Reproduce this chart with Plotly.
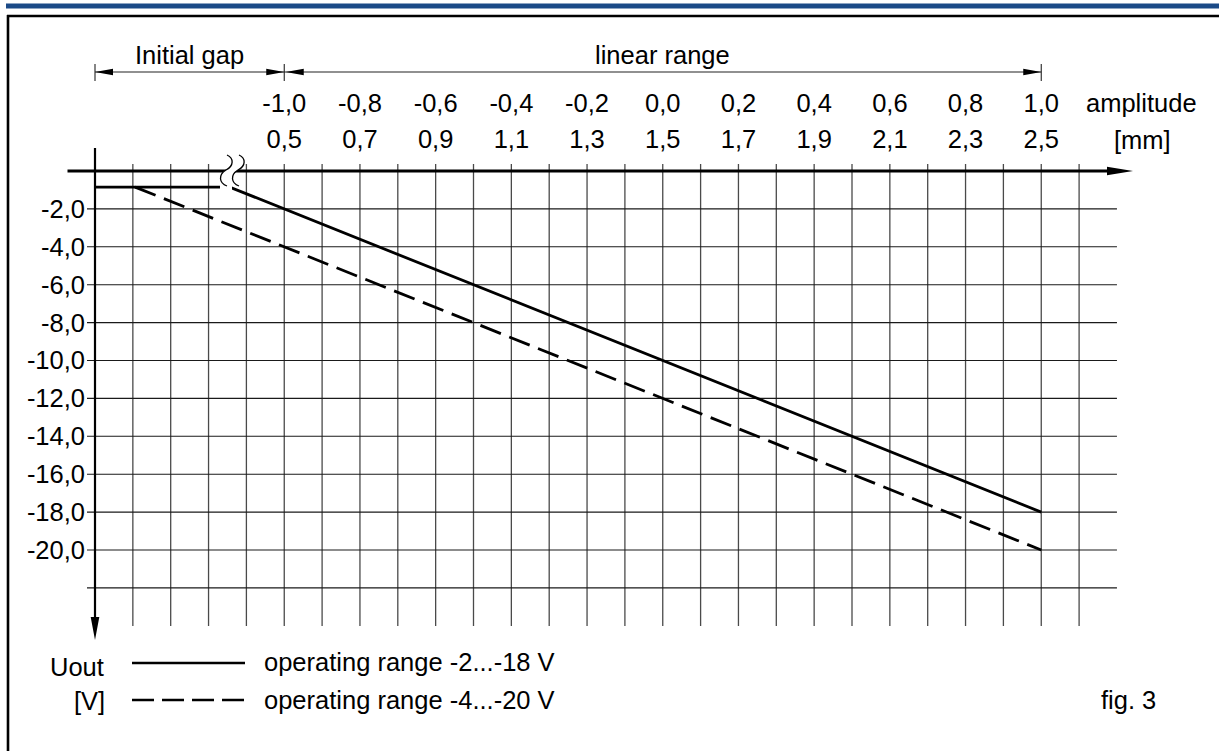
import plotly.graph_objects as go

# ---------------- data ----------------
gap_mm = [0.5, 0.7, 0.9, 1.1, 1.3, 1.5, 1.7, 1.9, 2.1, 2.3, 2.5]
gap_labels = ["0,5", "0,7", "0,9", "1,1", "1,3", "1,5", "1,7", "1,9", "2,1", "2,3", "2,5"]
amplitude_labels = ["-1,0", "-0,8", "-0,6", "-0,4", "-0,2", "0,0", "0,2", "0,4", "0,6", "0,8", "1,0"]
uout_ticks = [-2, -4, -6, -8, -10, -12, -14, -16, -18, -20]
uout_labels = ["-2,0", "-4,0", "-6,0", "-8,0", "-10,0", "-12,0", "-14,0", "-16,0", "-18,0", "-20,0"]

solid_x = [0.0, 0.356, 2.5]
solid_y = [-0.85, -0.85, -18.0]
dashed_x = [0.106, 2.5]
dashed_y = [-0.85, -20.0]

grid_x = [0.1, 0.2, 0.3, 0.4, 0.5, 0.6, 0.7, 0.8, 0.9, 1.0, 1.1, 1.2, 1.3,
          1.4, 1.5, 1.6, 1.7, 1.8, 1.9, 2.0, 2.1, 2.2, 2.3, 2.4, 2.5, 2.6]
grid_y = [-2, -4, -6, -8, -10, -12, -14, -16, -18, -20, -22]
dim_marks = [0.0, 0.5, 2.5]

# ---------------- page geometry ----------------
W, H = 1219, 751
X0PX, XPPMM = 95.0, 378.5     # pixel of x=0, pixels per mm
Y0PX, YPPV = 171.0, 18.95     # pixel of U=0, pixels per volt
FONT = "Liberation Sans, Arial, sans-serif"
FS = 25.5


def dx(px):
    return (px - X0PX) / XPPMM


def dy(py):
    return (Y0PX - py) / YPPV


xr = [dx(0), dx(W)]
yr = [dy(H), dy(0)]

shapes = []


def sline(x0, y0, x1, y1, color="black", width=1.0, layer="above", dash="solid"):
    shapes.append(dict(type="line", xref="x", yref="y", x0=x0, y0=y0, x1=x1, y1=y1,
                       line=dict(color=color, width=width, dash=dash), layer=layer))


def spath(pts_px, fill="black", layer="above", close=True, stroke=None, width=0):
    d = ""
    for cmd, pts in pts_px:
        d += cmd + " " + " ".join("%.5f,%.5f" % (dx(a), dy(b)) for a, b in pts) + " "
    if close:
        d += "Z"
    shapes.append(dict(type="path", xref="x", yref="y", path=d,
                       fillcolor=fill if fill else "rgba(0,0,0,0)",
                       line=dict(color=stroke if stroke else "rgba(0,0,0,0)", width=width),
                       layer=layer))


def harrow(tip, base, ypx, hw):
    spath([("M", [(tip, ypx)]), ("L", [(base, ypx - hw)]), ("L", [(base, ypx + hw)])])


def varrow(xpx, tip, base, hw):
    spath([("M", [(xpx, tip)]), ("L", [(xpx - hw, base)]), ("L", [(xpx + hw, base)])])


# grid
for gx in grid_x:
    sline(gx, dy(164), gx, dy(626), color="#4a4a4a", width=1.3, layer="below")
for gy in grid_y:
    sline(dx(87), gy, 2.7, gy, color="#1a1a1a", width=1.1, layer="below")

# top blue bar and frame
shapes.append(dict(type="rect", xref="x", yref="y", x0=dx(6), x1=dx(W), y0=dy(8.5), y1=dy(3.5),
                   fillcolor="#1b4a87", line=dict(width=0), layer="above"))
sline(dx(7), dy(16), dx(W), dy(16), width=2.6)
sline(dx(8), dy(15), dx(8), dy(H), width=2.6)

# dimension lines
ydim = 72
sline(dim_marks[0], dy(ydim), dim_marks[-1], dy(ydim), color="#222", width=1.1)
for m in dim_marks:
    sline(m, dy(64), m, dy(81), color="#222", width=1.1)
px_a, px_b, px_c = X0PX + dim_marks[0] * XPPMM, X0PX + dim_marks[1] * XPPMM, X0PX + dim_marks[2] * XPPMM
harrow(px_a, px_a + 18, ydim, 3.3)
harrow(px_b, px_b - 18, ydim, 3.3)
harrow(px_b + 1.5, px_b + 19.5, ydim, 3.3)
harrow(px_c, px_c - 18, ydim, 3.3)

# axes
sline(dx(67.5), 0, dx(1110), 0, width=3)
harrow(1133, 1107, Y0PX, 4.3)
sline(0, dy(148), 0, dy(620), width=2.2)
varrow(X0PX, 640, 617, 4.3)

# break symbol (white gap + two S-curves)
spath([("M", [(227, 155)]), ("C", [(234, 158), (234, 166), (226, 170)]),
       ("C", [(219, 174), (219, 180), (220, 184)]),
       ("L", [(220, 190)]), ("L", [(232, 190)]), ("L", [(232, 184)]),
       ("C", [(231, 180), (231, 174), (238, 170)]),
       ("C", [(246, 166), (246, 158), (239, 155)])], fill="white")
for off in (0, 12):
    spath([("M", [(227 + off, 155)]), ("C", [(234 + off, 158), (234 + off, 166), (226 + off, 170)]),
           ("C", [(218 + off, 175), (219 + off, 183), (227 + off, 186)])],
          fill=None, close=False, stroke="black", width=1.3)

# legend samples
sline(dx(132), dy(663), dx(245), dy(663), width=2.6)
sline(dx(132), dy(700), dx(245), dy(700), width=2.6, dash="22px,8px")

# ---------------- traces ----------------
fig = go.Figure()
fig.add_trace(go.Scatter(x=solid_x, y=solid_y, mode="lines",
                         line=dict(color="black", width=2.8),
                         name="operating range -2...-18 V", hoverinfo="skip"))
fig.add_trace(go.Scatter(x=dashed_x, y=dashed_y, mode="lines",
                         line=dict(color="black", width=2.8, dash="22px,9px"),
                         name="operating range -4...-20 V", hoverinfo="skip"))
fig.add_trace(go.Scatter(x=[None], y=[None], xaxis="x2", yaxis="y", showlegend=False,
                         hoverinfo="skip"))

# ---------------- annotations ----------------
annotations = []


def ann(text, xpx, ypx, xanchor="center"):
    annotations.append(dict(text=text, x=dx(xpx), y=dy(ypx), xref="x", yref="y",
                            xanchor=xanchor, yanchor="middle", showarrow=False,
                            font=dict(family=FONT, size=FS, color="black")))


ann("Initial gap", 189, 55)
ann("linear range", 662, 55)
ann("amplitude", 1141, 103)
ann("[mm]", 1142, 140)
ann("Uout", 106, 667, "right")
ann("[V]", 107, 701, "right")
ann("operating range -2...-18 V", 262, 662, "left")
ann("operating range -4...-20 V", 262, 700, "left")
ann("fig. 3", 1099, 700, "left")

tickfont = dict(family=FONT, size=FS, color="black")
fig.update_layout(
    width=W, height=H,
    margin=dict(l=0, r=0, t=0, b=0, pad=0),
    paper_bgcolor="white", plot_bgcolor="white",
    showlegend=False,
    shapes=shapes,
    annotations=annotations,
    xaxis=dict(range=xr, domain=[0, 1], anchor="free", position=1 - 155 / H, side="top",
               tickmode="array", tickvals=gap_mm, ticktext=gap_labels, tickfont=tickfont,
               showgrid=False, zeroline=False, showline=False, ticks="",
               ticklabelstandoff=2, automargin=False, fixedrange=True),
    xaxis2=dict(range=xr, domain=[0, 1], overlaying="x", anchor="free", position=1 - 119 / H,
                side="top", tickmode="array", tickvals=gap_mm, ticktext=amplitude_labels,
                tickfont=tickfont, showgrid=False, zeroline=False, showline=False, ticks="",
                ticklabelstandoff=2, automargin=False, fixedrange=True),
    yaxis=dict(range=yr, domain=[0, 1], anchor="free", position=87 / W,
               tickmode="array", tickvals=uout_ticks, ticktext=uout_labels, tickfont=tickfont,
               showgrid=False, zeroline=False, showline=False, ticks="",
               ticklabelstandoff=2, automargin=False, fixedrange=True),
)

fig.write_html("out.html", config={"displayModeBar": False},
               post_script="document.body.style.margin='0';document.body.style.overflow='hidden';")
